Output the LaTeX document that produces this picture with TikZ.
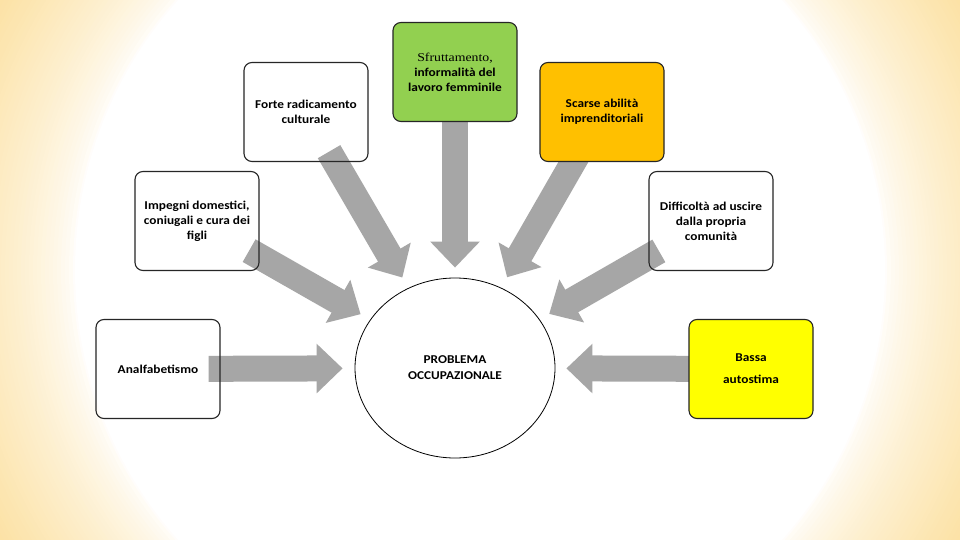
\documentclass[tikz,border=0pt]{standalone}
\usepackage{fontspec}
\setmainfont{Carlito}[FakeStretch=1.11,UprightFont=*-Bold]
\newfontfamily\timesfont{Liberation Serif}[FakeStretch=1.15]
\usepackage{tikz}
\usetikzlibrary{arrows.meta,shapes.geometric,backgrounds}
\definecolor{bgyel}{HTML}{FCE2A6}
\definecolor{lgreen}{HTML}{92D050}
\definecolor{dorange}{HTML}{FFC000}
\definecolor{byellow}{HTML}{FFFF00}
\definecolor{agray}{HTML}{A6A6A6}
\pgfdeclarelayer{slide}
\pgfsetlayers{slide,background,main}
\tikzset{
  box/.style={draw=black!85,line width=1.1pt,rounded corners=8pt,minimum width=124pt,minimum height=99pt,
              align=center,font=\fontsize{12}{15}\selectfont,inner sep=3pt},
  core/.style={draw=black,line width=0.8pt,ellipse,minimum width=200pt,minimum height=180pt,
               align=center,font=\fontsize{12}{16}\selectfont,inner sep=0pt},
  bigarr/.style={-{Triangle[width=48pt,length=26pt]},line width=26pt,agray,shorten <=-12pt},
}

\begin{document}
\begin{tikzpicture}[x=1pt,y=-1pt]
\useasboundingbox (0,0) rectangle (960,540);
\node[core] (prob) at (455,368) {PROBLEMA\\OCCUPAZIONALE};
\node[box] (forte) at (306,112) {Forte radicamento\\culturale};
\node[box,fill=lgreen] (sfrut) at (455,72) {{\timesfont Sfruttamento,}\\informalità del\\lavoro femminile};
\node[box,fill=dorange] (scarse) at (602,112) {Scarse abilità\\imprenditoriali};
\node[box] (impegni) at (197,221) {Impegni domestici,\\coniugali e cura dei\\figli};
\node[box] (diffic) at (711,221) {Difficoltà ad uscire\\dalla propria\\comunità};
\node[box] (analf) at (158,369) {Analfabetismo};
\node[box,fill=byellow,font=\fontsize{12}{22}\selectfont] (bassa) at (751,369) {Bassa\\autostima};
% slide background: pale yellow edges fading to white
\begin{pgfonlayer}{slide}
  \clip (0,0) rectangle (960,540);
  \fill[bgyel] (0,0) rectangle (960,540);
  \foreach \i in {0,...,36}{
    \pgfmathsetmacro\rr{551-4*\i}
    \pgfmathsetmacro\pp{100*((\rr-405)/146)^0.7}
    \fill[bgyel!\pp!white] (480,270) circle (\rr);}
  \fill[white] (480,270) circle (405);
\end{pgfonlayer}
% fat grey arrows behind the boxes
\begin{scope}[on background layer]
  \foreach \n/\s in {forte/12,sfrut/10,scarse/12,impegni/11,diffic/11,analf/12,bassa/11}{
    \draw[bigarr,shorten >=\s pt] (\n) -- (prob);}
\end{scope}
\end{tikzpicture}
\end{document}
